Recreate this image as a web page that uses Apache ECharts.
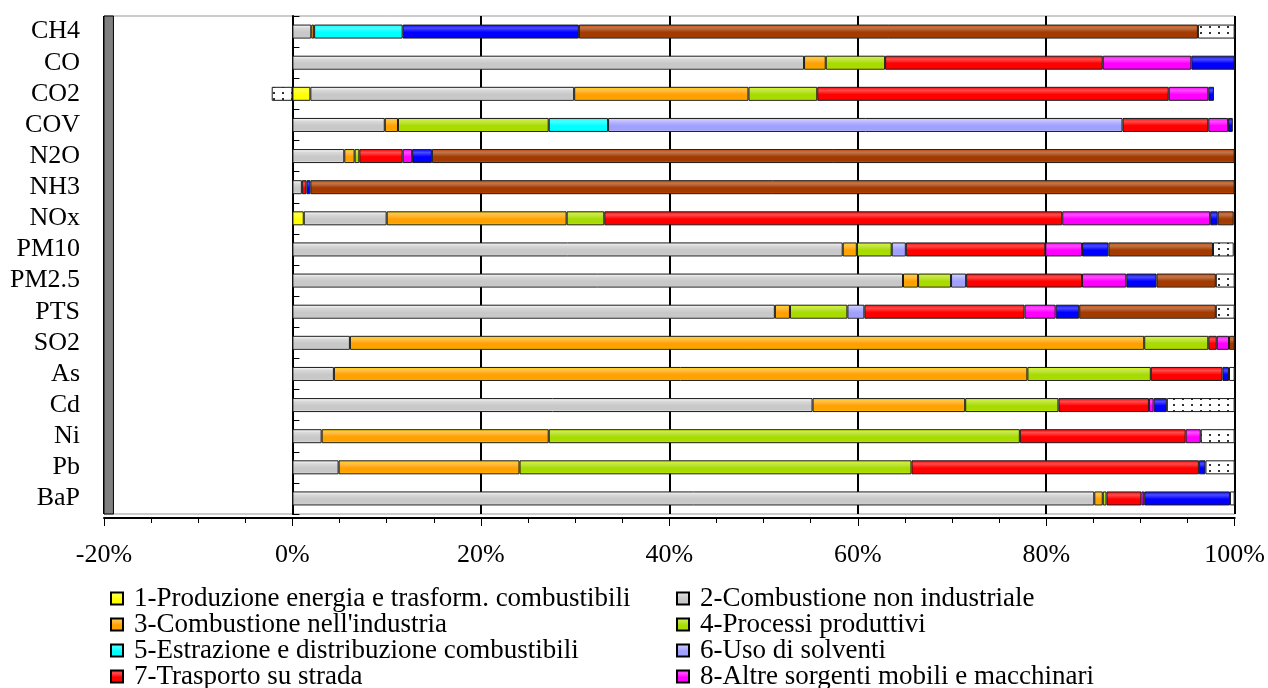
<!DOCTYPE html>
<html>
<head>
<meta charset="utf-8">
<title>Emissioni per macrosettore</title>
<script src="https://cdn.jsdelivr.net/npm/echarts@6/dist/echarts.min.js"></script>
<style>
	html, body { margin: 0; padding: 0; background: #fff; }
	#chart { width: 1268px; height: 688px; }
</style>
</head>
<body>
<div id="chart"></div>
<script>
// inquinanti, dall'alto verso il basso
const categories = ['CH4', 'CO', 'CO2', 'COV', 'N2O', 'NH3', 'NOx', 'PM10', 'PM2.5', 'PTS', 'SO2', 'As', 'Cd', 'Ni', 'Pb', 'BaP']

// contributo percentuale di ogni macrosettore (stesso ordine delle categorie)
const energia      = [0, 0, 1.9, 0, 0, 0, 1.2, 0, 0, 0, 0, 0, 0, 0, 0, 0]
const nonIndustr   = [2.0, 54.3, 28.0, 9.8, 5.5, 1.0, 8.8, 58.4, 64.8, 51.2, 6.1, 4.4, 55.2, 3.1, 4.9, 85.1]
const industria    = [0.3, 2.3, 18.5, 1.4, 1.1, 0, 19.1, 1.5, 1.6, 1.6, 84.3, 73.6, 16.2, 24.1, 19.2, 0.9]
const processi     = [0, 6.3, 7.3, 16.0, 0.5, 0, 4.0, 3.7, 3.5, 6.1, 6.8, 13.1, 9.9, 50.0, 41.6, 0.4]
const estrazione   = [9.4, 0, 0, 6.3, 0, 0, 0, 0, 0, 0, 0, 0, 0, 0, 0, 0]
const solventi     = [0, 0, 0, 54.6, 0, 0, 0, 1.5, 1.6, 1.8, 0, 0, 0, 0, 0, 0]
const strada       = [0, 23.1, 37.3, 9.1, 4.6, 0.5, 48.6, 14.8, 12.3, 17.0, 0.9, 7.6, 9.6, 17.6, 30.5, 3.7]
const altreMobili  = [0, 9.4, 4.2, 2.1, 1.0, 0, 15.7, 3.9, 4.7, 3.3, 1.3, 0, 0.5, 1.6, 0, 0.3]
const rifiuti      = [18.7, 4.6, 0.6, 0.5, 2.1, 0.4, 0.8, 2.8, 3.2, 2.5, 0, 0.7, 1.4, 0, 0.7, 9.1]
const agricoltura  = [65.7, 0, 0, 0, 85.2, 98.1, 1.7, 11.1, 6.3, 14.5, 0.6, 0, 0, 0, 0, 0]
const altreSorg    = [3.9, 0, -2.2, 0, 0, 0, 0, 2.2, 2.0, 2.0, 0, 0.6, 7.2, 3.6, 3.1, 0.5]

// tick dell'asse x
const xTicks = [-20, 0, 20, 40, 60, 80, 100]

const sectors = [
	{ name: '1-Produzione energia e trasform. combustibili', data: energia, color: '#ffff00' },
	{ name: '2-Combustione non industriale', data: nonIndustr, color: '#c8c8c8' },
	{ name: "3-Combustione nell'industria", data: industria, color: '#ffa200' },
	{ name: '4-Processi produttivi', data: processi, color: '#a8dc00' },
	{ name: '5-Estrazione e distribuzione combustibili', data: estrazione, color: '#00ffff' },
	{ name: '6-Uso di solventi', data: solventi, color: '#a0a0ff' },
	{ name: '7-Trasporto su strada', data: strada, color: '#ff0000' },
	{ name: '8-Altre sorgenti mobili e macchinari', data: altreMobili, color: '#ff00ff' },
	{ name: '9-Trattamento e smaltimento rifiuti', data: rifiuti, color: '#0000ff' },
	{ name: '10-Agricoltura', data: agricoltura, color: '#a33a00' },
	{ name: '11-Altre sorgenti e assorbimenti', data: altreSorg, color: 'dots' },
]

const font = "'Liberation Serif', 'Times New Roman', serif"

// sfumatura verticale per dare l'effetto cilindro
function cylinder(c) {
	return new echarts.graphic.LinearGradient(0, 0, 0, 1, [
		{ offset: 0, color: echarts.color.lift(c, -0.35) },
		{ offset: 0.25, color: echarts.color.lift(c, 0.3) },
		{ offset: 0.55, color: c },
		{ offset: 0.85, color: c },
		{ offset: 1, color: echarts.color.lift(c, -0.45) }
	])
}

// motivo a puntini per "altre sorgenti"
function dotPattern() {
	const cv = document.createElement('canvas')
	cv.width = 9
	cv.height = 6
	const ctx = cv.getContext('2d')
	ctx.fillStyle = '#ffffff'
	ctx.fillRect(0, 0, 9, 6)
	ctx.fillStyle = '#333333'
	ctx.fillRect(3, 2, 2, 2)
	return { image: cv, repeat: 'repeat' }
}

const series = sectors.map((s, i) => {
	const item = {
		name: s.name,
		type: 'bar',
		stack: 'tot',
		barWidth: 14,
		data: s.data.map(v => (v === 0 ? '-' : v)),
		itemStyle: {
			color: s.color === 'dots' ? dotPattern() : cylinder(s.color),
			borderColor: '#1a1a1a',
			borderWidth: 1
		}
	}
	if (i === 0) {
		// parete sinistra grigia del grafico 3D
		item.markArea = {
			silent: true,
			itemStyle: { color: '#808080', borderColor: '#000', borderWidth: 1 },
			data: [[{ xAxis: -20 }, { xAxis: -19 }]]
		}
	}
	return item
})

const legendBase = {
	orient: 'vertical',
	top: 580,
	height: 400,
	itemWidth: 12,
	itemHeight: 12,
	itemGap: -1,
	icon: 'rect',
	itemStyle: { borderColor: '#000', borderWidth: 2 },
	textStyle: { fontFamily: font, fontSize: 27, lineHeight: 24, color: '#000', padding: [0, 0, 0, 6] }
}

const chart = echarts.init(document.getElementById('chart'))
chart.setOption({
	animation: false,
	backgroundColor: '#fff',
	grid: {
		left: 104,
		width: 1137,
		top: 16,
		height: 498,
		show: true,
		borderColor: '#999',
		borderWidth: 1
	},
	legend: [
		Object.assign({}, legendBase, { left: 105, data: sectors.filter((s, i) => i % 2 === 0).map(s => s.name) }),
		Object.assign({}, legendBase, { left: 671, data: sectors.filter((s, i) => i % 2 === 1).map(s => s.name) })
	],
	xAxis: {
		type: 'value',
		min: xTicks[0],
		max: xTicks[xTicks.length - 1],
		interval: 20,
		offset: 4,
		axisLine: { show: true, lineStyle: { color: '#000', width: 2 } },
		axisTick: { show: true, length: 8, lineStyle: { color: '#000' } },
		minorTick: { show: true, splitNumber: 4, length: 5, lineStyle: { color: '#000' } },
		splitLine: { show: true, lineStyle: { color: '#000', width: 2 } },
		axisLabel: {
			formatter: '{value}%',
			fontFamily: font,
			fontSize: 26,
			color: '#000',
			margin: 24
		}
	},
	yAxis: [
		{
			type: 'category',
			inverse: true,
			data: categories,
			axisLine: { show: false, onZero: false },
			axisTick: { show: false },
			axisLabel: { interval: 0, fontFamily: font, fontSize: 26, color: '#000', margin: 24 }
		},
		{
			// asse verticale sullo 0%
			type: 'category',
			inverse: true,
			data: categories,
			axisLine: { show: true, onZero: true, lineStyle: { color: '#000', width: 2 } },
			axisTick: { show: true, length: 7, lineStyle: { color: '#000' } },
			axisLabel: { show: false }
		}
	],
	series: series
})
</script>
</body>
</html>
